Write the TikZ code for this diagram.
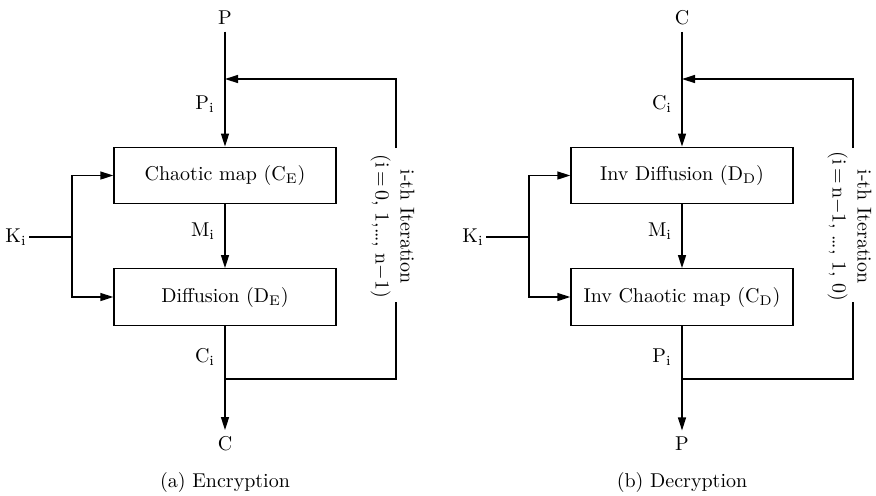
\documentclass[tikz,border=0pt]{standalone}
\usepackage{fontspec}
\usetikzlibrary{arrows.meta}
\begin{document}
\begin{tikzpicture}[x=0.5pt,y=-0.5pt,line width=0.7pt,
  >={Triangle[length=6.5pt,width=4pt]},
  font=\fontsize{10}{12.5}\selectfont,
  blk/.style={draw,minimum width=111pt,minimum height=28.25pt,inner sep=0pt},
  lbl/.style={inner sep=1pt},
  term/.style={inner sep=3pt},
  iter/.style={rotate=-90,align=center,inner sep=1pt}]
\useasboundingbox (0,0) rectangle (876,495);

% ---------- (a) Encryption ----------
\node[term] (aP) at (225,18) {P};
\coordinate (aIn) at (225,79);
\node[blk] (aCE) at (225,175.5) {Chaotic map ($\mathrm{C_E}$)};
\node[blk] (aDE) at (225,297) {Diffusion ($\mathrm{D_E}$)};
\coordinate (aOut) at (225,379);
\node[term] (aC) at (225,444) {C};
\node[lbl] (aK) at (16,237) {$\mathrm{K_i}$};
\coordinate (aKj) at (72,237);
\node[iter] (aIt) at (392.5,226.5) {i-th Iteration\\(i\,=\,0, 1,…, n$-$1)};
\coordinate (aGt) at (396,148);
\coordinate (aGb) at (396,302);

\node[lbl] at (205,104) {$\mathrm{P_i}$};
\node[lbl] at (203,231) {$\mathrm{M_i}$};
\node[lbl] at (205,357) {$\mathrm{C_i}$};

\draw (aP) -- (aIn);
\draw[->] (aIn) -- (aCE.north);
\draw[->] (aCE) -- (aDE);
\draw (aDE) -- (aOut);
\draw[->] (aOut) -- (aC.north);
\draw (aOut) -| (aGb);
\draw[->] (aGt) |- (aIn);
\draw (aK) -- (aKj);
\draw[->] (aKj) |- (aCE.west);
\draw[->] (aKj) |- (aDE.west);
\node (aCap) at (225,482) {(a) Encryption};

% ---------- (b) Decryption ----------
\node[term] (bC) at (682,18) {C};
\coordinate (bIn) at (682,79);
\node[blk] (bDD) at (682,175.5) {Inv Diffusion ($\mathrm{D_D}$)};
\node[blk] (bCD) at (682,297) {Inv Chaotic map ($\mathrm{C_D}$)};
\coordinate (bOut) at (682,379);
\node[term] (bP) at (682,444) {P};
\node[lbl] (bK) at (473,237) {$\mathrm{K_i}$};
\coordinate (bKj) at (529,237);
\node[iter] (bIt) at (849.5,226.5) {i-th Iteration\\(i\,=\,n$-$1, …, 1, 0)};
\coordinate (bGt) at (853,148);
\coordinate (bGb) at (853,302);

\node[lbl] at (662,104) {$\mathrm{C_i}$};
\node[lbl] at (660,231) {$\mathrm{M_i}$};
\node[lbl] at (662,357) {$\mathrm{P_i}$};

\draw (bC) -- (bIn);
\draw[->] (bIn) -- (bDD.north);
\draw[->] (bDD) -- (bCD);
\draw (bCD) -- (bOut);
\draw[->] (bOut) -- (bP.north);
\draw (bOut) -| (bGb);
\draw[->] (bGt) |- (bIn);
\draw (bK) -- (bKj);
\draw[->] (bKj) |- (bDD.west);
\draw[->] (bKj) |- (bCD.west);
\node (bCap) at (682,482) {(b) Decryption};
\end{tikzpicture}
\end{document}
